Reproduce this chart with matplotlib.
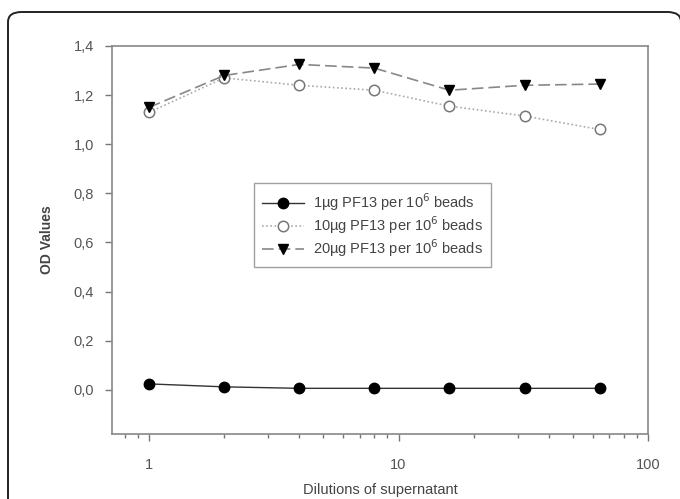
import matplotlib
matplotlib.use("Agg")
import matplotlib.pyplot as plt
from matplotlib.patches import FancyBboxPatch

plt.rcParams['font.family'] = ['Liberation Sans', 'DejaVu Sans']

dilutions = [1, 2, 4, 8, 16, 32, 64]
od_1ug = [0.024, 0.012, 0.006, 0.006, 0.006, 0.006, 0.006]
od_10ug = [1.13, 1.27, 1.24, 1.22, 1.155, 1.115, 1.06]
od_20ug = [1.15, 1.28, 1.325, 1.31, 1.22, 1.24, 1.245]
y_ticks = [0.0, 0.2, 0.4, 0.6, 0.8, 1.0, 1.2, 1.4]
y_tick_labels = ['0,0', '0,2', '0,4', '0,6', '0,8', '1,0', '1,2', '1,4']
x_ticks = [1, 10, 100]
x_tick_labels = ['1', '10', '100']
labels = ['1µg PF13 per 10$^6$ beads', '10µg PF13 per 10$^6$ beads', '20µg PF13 per 10$^6$ beads']

W, H = 680, 499
fig = plt.figure(figsize=(W / 100, H / 100), dpi=100)
ax = fig.add_axes([112 / W, 1 - 434 / H, (648 - 112) / W, (434 - 46) / H])

# outer rounded border
border = FancyBboxPatch((8 / W, -30 / H), (681 - 8) / W, (H - 12 + 30) / H,
                        boxstyle="round,pad=0,rounding_size=0.02",
                        transform=fig.transFigure, fill=False,
                        edgecolor='#222222', linewidth=1.4, zorder=0)
fig.patches.append(border)

ax.plot(dilutions, od_1ug, '-', color='#333333', linewidth=1.0,
        marker='o', markersize=7.5, markerfacecolor='black', markeredgecolor='black',
        label=labels[0])
ax.plot(dilutions, od_10ug, linestyle=(0, (1, 1.5)), color='#aaaaaa', linewidth=1.2,
        marker='o', markersize=7.5, markerfacecolor='white', markeredgecolor='#777777',
        markeredgewidth=1.1, label=labels[1])
ax.plot(dilutions, od_20ug, linestyle=(0, (7, 3)), color='#888888', linewidth=1.2,
        marker='v', markersize=7.5, markerfacecolor='black', markeredgecolor='black',
        label=labels[2])

ax.set_xscale('log')
ax.set_xlim(0.71, 100)
ax.set_ylim(-0.18, 1.4)
ax.set_xticks(x_ticks)
ax.set_xticklabels(x_tick_labels)
ax.set_yticks(y_ticks)
ax.set_yticklabels(y_tick_labels)

for s in ax.spines.values():
    s.set_color('#888888')
    s.set_linewidth(1.2)
ax.tick_params(axis='both', which='major', direction='out', length=5, width=1,
               color='#777777', labelcolor='#555555', labelsize=10.5, pad=8)
ax.tick_params(axis='x', which='major', pad=12)
ax.tick_params(axis='x', which='minor', direction='out', length=3, width=1,
               color='#777777')

ax.set_xlabel('Dilutions of supernatant', fontsize=10.5, color='#444444', labelpad=8)
ax.set_ylabel('OD Values', fontsize=10, color='#444444', fontweight='bold', labelpad=14)

leg = ax.legend(loc='upper left', bbox_to_anchor=((254 - 112) / (648 - 112), 1 - (183 - 46) / (434 - 46)),
                fontsize=10.5, frameon=True, fancybox=False, handlelength=2.9,
                labelspacing=0.1, borderpad=0.55, handletextpad=0.6, borderaxespad=0)
leg.get_frame().set_edgecolor('#888888')
leg.get_frame().set_linewidth(1.0)
for t in leg.get_texts():
    t.set_color('#444444')

fig.savefig('out.png', dpi=100)
